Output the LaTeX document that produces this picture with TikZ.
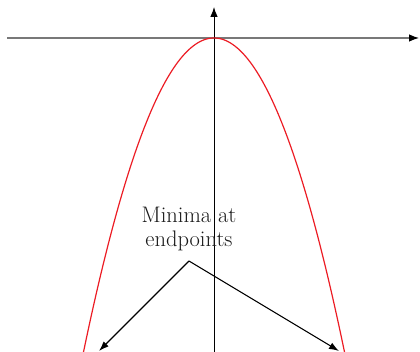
\documentclass[tikz,border=0pt]{standalone}
\usetikzlibrary{arrows.meta}
\definecolor{curvered}{RGB}{236,28,36}
\definecolor{axisgray}{RGB}{120,120,120}
\tikzset{
  axisline/.style={line width=0.9pt,-{Latex[length=10pt,width=7.5pt,black]}},
  pointer/.style={line width=1.1pt,-{Latex[length=10pt,width=7pt]}},
  curve/.style={curvered,line width=1.2pt},
  labeltext/.style={align=center,font=\fontsize{22.5}{24.5}\selectfont,text=black!90,inner sep=0pt}
}
\begin{document}
\begin{tikzpicture}[x=1pt,y=-1pt]
\useasboundingbox (0,0) rectangle (420,352);
\coordinate (xl) at (7,38);
\coordinate (xr) at (419,38);
\coordinate (yb) at (214,352);
\coordinate (yt) at (214,7);
\draw[axisline,draw=axisgray,line width=1.1pt] (xl) -- (xr);
\draw[axisline] (yb) -- (yt);
\begin{scope}
\clip (0,0) rectangle (420,352);
\draw[curve,domain=-131:131,samples=120,smooth] plot ({214+\x},{38+314*(\x/130.5)^2});
\end{scope}
\node[labeltext] (lbl) at (189,229) {Minima at\\endpoints};
\coordinate (apex) at (189,261);
\coordinate (endl) at (99,351);
\coordinate (endr) at (339,351);
\draw[pointer] (apex) -- (endl);
\draw[pointer] (apex) -- (endr);
\end{tikzpicture}
\end{document}
